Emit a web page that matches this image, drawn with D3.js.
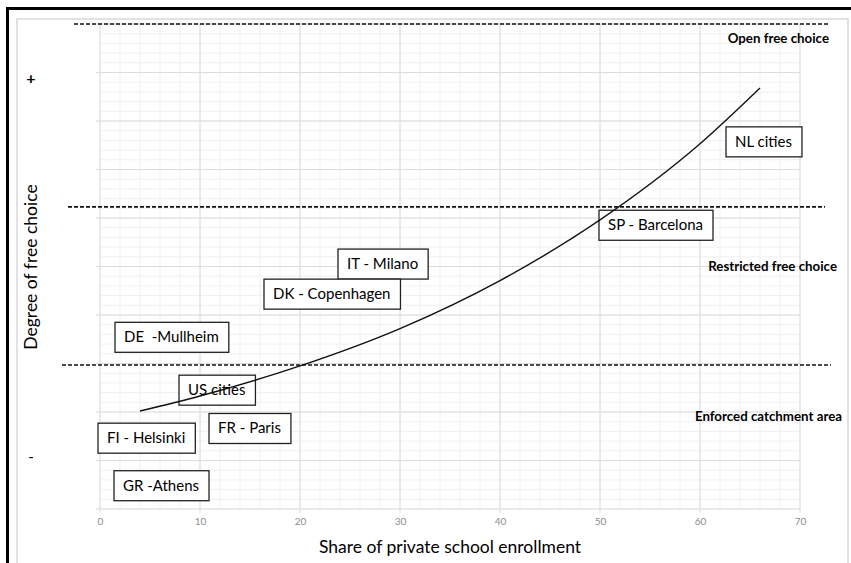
<!DOCTYPE html>
<html>
<head>
<meta charset="utf-8">
<script src="https://cdn.jsdelivr.net/npm/d3@7"></script>
<style>
  body { margin: 0; background: #fff; }
  text { font-family: Lato, "Open Sans", sans-serif; }
</style>
</head>
<body>
<div id="chart"></div>
<script>
// ---------------- data ----------------
// trend curve
let curveX = [4, 10, 20, 30, 40, 50, 60, 66];
let curveY = [2.02, 2.33, 2.95, 3.72, 4.71, 5.96, 7.53, 8.68];

// city boxes: left edge (x units) and middle (y units)
let cities = ["NL cities", "SP - Barcelona", "IT - Milano", "DK - Copenhagen", "DE  -Mullheim",
              "US cities", "FR - Paris", "FI - Helsinki", "GR -Athens"];
let cityX = [62.6, 49.9, 23.8, 16.4, 1.5, 7.9, 10.9, -0.2, 1.4];
let cityY = [7.57, 5.85, 5.05, 4.43, 3.54, 2.45, 1.66, 1.46, 0.48];

// dashed regime borders
let zoneNames = ["Open free choice", "Restricted free choice", "Enforced catchment area"];
let zoneY = [10, 6.23, 2.97];
let zoneFrom = [-2.6, -3.2, -3.8];
let zoneTo = [72.8, 72.5, 73.1];
let zoneTextY = [9.7, 5.0, 1.9];
let zoneTextX = [72.9, 73.7, 74.2];

let xTicks = [0, 10, 20, 30, 40, 50, 60, 70];

// ---------------- drawing ----------------
var W = 851, H = 563;
var svg = d3.select("#chart").append("svg")
    .attr("width", W)
    .attr("height", H);

// outer frame
svg.append("rect").attr("x", 17).attr("y", 19).attr("width", 831).attr("height", 560)
    .attr("fill", "none").attr("stroke", "#d9d9d9").attr("stroke-width", 1.5);
svg.append("line").attr("x1", 7).attr("x2", W).attr("y1", 8.5).attr("y2", 8.5)
    .attr("stroke", "#000").attr("stroke-width", 3);
svg.append("line").attr("x1", 7.5).attr("x2", 7.5).attr("y1", 7).attr("y2", H)
    .attr("stroke", "#000").attr("stroke-width", 3);

var x = d3.scaleLinear().domain([0, 70]).range([100, 800]);
var y = d3.scaleLinear().domain([0, 10]).range([509, 24]);

// grid
var grid = svg.append("g");
grid.selectAll(".xminor").data(d3.range(0, 71, 2)).enter().append("line")
    .attr("x1", d => x(d)).attr("x2", d => x(d))
    .attr("y1", y(10)).attr("y2", y(0))
    .attr("stroke", "#f0f0f0").attr("stroke-width", 1);
grid.selectAll(".yminor").data(d3.range(0, 10.01, 0.2)).enter().append("line")
    .attr("x1", x(0)).attr("x2", x(70))
    .attr("y1", d => y(d)).attr("y2", d => y(d))
    .attr("stroke", "#f0f0f0").attr("stroke-width", 1);
grid.selectAll(".xmajor").data(xTicks).enter().append("line")
    .attr("x1", d => x(d)).attr("x2", d => x(d))
    .attr("y1", y(10)).attr("y2", y(0) + 4)
    .attr("stroke", "#dcdcdc").attr("stroke-width", 1);
grid.selectAll(".ymajor").data(d3.range(0, 11, 1)).enter().append("line")
    .attr("x1", x(0) - 4).attr("x2", x(70))
    .attr("y1", d => y(d)).attr("y2", d => y(d))
    .attr("stroke", "#dcdcdc").attr("stroke-width", 1);

// x axis
var xAxis = svg.append("g")
    .attr("transform", "translate(0," + y(0) + ")")
    .call(d3.axisBottom(x).tickValues(xTicks).tickSize(0).tickPadding(9));
xAxis.select(".domain").remove();
xAxis.selectAll("text").attr("fill", "#8c8c8c").style("font-size", "10px")
    .style("font-family", "Lato, sans-serif");

svg.append("text")
    .attr("x", 450).attr("y", 553)
    .attr("text-anchor", "middle")
    .style("font-size", "17.5px")
    .text("Share of private school enrollment");

svg.append("text")
    .attr("transform", "translate(37,267) rotate(-90)")
    .attr("text-anchor", "middle")
    .style("font-size", "17.5px")
    .text("Degree of free choice");

svg.append("text").attr("x", 31).attr("y", 84).attr("text-anchor", "middle")
    .style("font-size", "16px").style("font-weight", "bold").text("+");
svg.append("text").attr("x", 31).attr("y", 462).attr("text-anchor", "middle")
    .style("font-size", "15px").text("-");

// city boxes
var boxes = svg.append("g").selectAll("g").data(cities).enter().append("g")
    .attr("transform", (d, i) => "translate(" + x(cityX[i]) + "," + y(cityY[i]) + ")");
var boxRects = boxes.append("rect")
    .attr("y", -15).attr("height", 30)
    .attr("fill", "#fff").attr("stroke", "#222").attr("stroke-width", 1.3);
var boxTexts = boxes.append("text")
    .attr("x", 9).attr("y", 5)
    .style("font-size", "15px")
    .style("white-space", "pre")
    .text(d => d);
boxTexts.each(function(d, i) {
    var w = this.getComputedTextLength();
    d3.select(boxRects.nodes()[i]).attr("width", w + 19);
});

// trend curve
var pts = curveX.map((v, i) => [v, curveY[i]]);
svg.append("path")
    .datum(pts)
    .attr("fill", "none")
    .attr("stroke", "#111")
    .attr("stroke-width", 1.4)
    .attr("d", d3.line()
        .x(d => x(d[0]))
        .y(d => y(d[1]))
        .curve(d3.curveMonotoneX));

// dashed borders
svg.append("g").selectAll("line").data(zoneY).enter().append("line")
    .attr("x1", (d, i) => x(zoneFrom[i]))
    .attr("x2", (d, i) => x(zoneTo[i]))
    .attr("y1", d => y(d)).attr("y2", d => y(d))
    .attr("stroke", "#111").attr("stroke-width", 1.6)
    .attr("stroke-dasharray", "4,2");

svg.append("g").selectAll("text").data(zoneNames).enter().append("text")
    .attr("x", (d, i) => x(zoneTextX[i]))
    .attr("y", (d, i) => y(zoneTextY[i]) + 4)
    .attr("text-anchor", "end")
    .style("font-size", "13.3px")
    .style("font-weight", "bold")
    .text(d => d);
</script>
</body>
</html>
